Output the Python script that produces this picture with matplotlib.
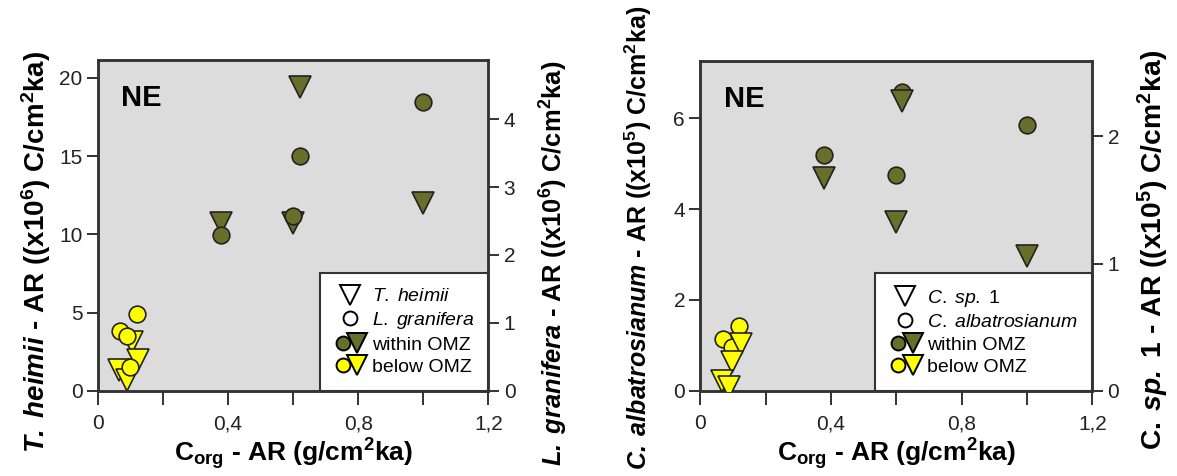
import matplotlib
matplotlib.use("Agg")
import matplotlib.pyplot as plt
from matplotlib.lines import Line2D
from matplotlib.legend_handler import HandlerTuple

plt.rcParams["font.family"] = ["Liberation Sans", "DejaVu Sans"]
plt.rcParams["mathtext.fontset"] = "custom"
plt.rcParams["mathtext.rm"] = "Liberation Sans"
plt.rcParams["mathtext.it"] = "Liberation Sans:italic"
plt.rcParams["mathtext.bf"] = "Liberation Sans:bold"
plt.rcParams["mathtext.bfit"] = "Liberation Sans:bold:italic"

OLIVE, YELLOW, EDGE, BG = "#66702a", "#ffff00", "#222222", "#dcdcdc"

# ---- left panel: T. heimii (triangles, left axis), L. granifera (circles, right axis)
th_in_x = [0.38, 0.60, 0.62, 1.00]
th_in_y = [10.7, 10.7, 19.4, 12.0]
lg_in_x = [0.38, 0.60, 0.62, 1.00]
lg_in_y = [2.30, 2.57, 3.45, 4.25]
th_bl_x = [0.104, 0.124, 0.066, 0.089]
th_bl_y = [3.1, 2.0, 1.3, 0.7]
lg_bl_x = [0.12, 0.069, 0.089, 0.099]
lg_bl_y = [1.13, 0.88, 0.80, 0.35]

# ---- right panel: C. albatrosianum (circles, left axis), C. sp. 1 (triangles, right axis)
ca_in_x = [0.38, 0.60, 0.617, 1.00]
ca_in_y = [5.18, 4.74, 6.57, 5.84]
cs_in_x = [0.38, 0.60, 0.617, 1.00]
cs_in_y = [1.67, 1.33, 2.28, 1.06]
ca_bl_x = [0.117, 0.069, 0.097]
ca_bl_y = [1.43, 1.15, 0.97]
cs_bl_x = [0.125, 0.097, 0.067, 0.089]
cs_bl_y = [0.37, 0.23, 0.08, 0.03]

x_ticks = [0, 0.2, 0.4, 0.6, 0.8, 1.0, 1.2]
x_labels = ["0", "", "0,4", "", "0,8", "", "1,2"]

TRI_MS, CIR_MS = 16, 12
TICK_FS, XLAB_FS, YLAB_FS = 15, 19, 19.5
W, H = 1177, 476


def style(ax, side):
    ax.tick_params(axis="y", which="both", direction="out", length=8, width=1.3,
                   labelsize=TICK_FS, colors="#222222", left=(side == "left"),
                   right=(side == "right"), labelleft=(side == "left"),
                   labelright=(side == "right"), pad=3)
    for s in ax.spines.values():
        s.set_linewidth(1.8)
        s.set_color("#333333")


def panel(rect, tri_x, tri_y, cir_x, cir_y, tri_bx, tri_by, cir_bx, cir_by,
          tri_left, lims, ticks, labels, names, pads):
    ax = fig.add_axes(rect)
    ax.set_facecolor(BG)
    ax2 = ax.twinx()
    tri_ax, cir_ax = (ax, ax2) if tri_left else (ax2, ax)
    kw_t = dict(marker="v", ms=TRI_MS, mec=EDGE, mew=1.2, ls="none")
    kw_c = dict(marker="o", ms=CIR_MS, mec=EDGE, mew=1.2, ls="none")
    tri_ax.plot(tri_x, tri_y, mfc=OLIVE, **kw_t, zorder=3)
    cir_ax.plot(cir_x, cir_y, mfc=OLIVE, **kw_c, zorder=4)
    tri_ax.plot(tri_bx, tri_by, mfc=YELLOW, **kw_t, zorder=3)
    cir_ax.plot(cir_bx, cir_by, mfc=YELLOW, **kw_c, zorder=4)

    ax.set_xlim(0, 1.2)
    ax.set_xticks(x_ticks)
    ax.set_xticklabels(x_labels)
    ax.tick_params(axis="x", direction="out", length=10, width=1.3,
                   labelsize=TICK_FS, pad=7, colors="#222222")
    ax.set_ylim(0, lims[0])
    ax2.set_ylim(0, lims[1])
    ax.set_yticks(ticks[0])
    ax2.set_yticks(ticks[1])
    style(ax, "left")
    style(ax2, "right")
    ax.set_xlabel(r"C$_{\mathbf{org}}$ - AR (g/cm$^{\mathbf{2}}$ka)", fontsize=XLAB_FS,
                  fontweight="bold", labelpad=2)
    ax.set_ylabel(labels[0], fontsize=YLAB_FS, fontweight="bold", labelpad=pads[0])
    ax2.set_ylabel(labels[1], fontsize=YLAB_FS, fontweight="bold", labelpad=pads[1],
                   rotation=90)
    ax.text(0.06, 0.885, "NE", transform=ax.transAxes, fontsize=21,
            fontweight="bold", va="center", zorder=6)

    # legend
    small_t = dict(marker="v", ms=14, mec="black", mew=1.4, ls="none")
    small_c = dict(marker="o", ms=10, mec="black", mew=1.4, ls="none")
    h = [
        Line2D([], [], mfc="white", **small_t),
        Line2D([], [], mfc="white", **small_c),
        (Line2D([], [], mfc=OLIVE, **small_c), Line2D([], [], mfc=OLIVE, **small_t)),
        (Line2D([], [], mfc=YELLOW, **small_c), Line2D([], [], mfc=YELLOW, **small_t)),
    ]
    lab = [names[0], names[1], "within OMZ", "below OMZ"]
    leg = ax2.legend(h, lab, loc="lower right", bbox_to_anchor=(1, 0),
                     borderaxespad=0, fancybox=False, framealpha=1,
                     edgecolor="#333333", fontsize=14, handlelength=1.6,
                     handletextpad=0.3, labelspacing=0.25, borderpad=0.75,
                     handler_map={tuple: HandlerTuple(ndivide=None, pad=-0.1)})
    leg.get_frame().set_linewidth(1.5)
    leg.set_zorder(10)
    return ax, ax2


fig = plt.figure(figsize=(W / 100, H / 100), dpi=100)

axL, axL2 = panel([0.083, 0.179, 0.332, 0.695], th_in_x, th_in_y, lg_in_x, lg_in_y,
                  th_bl_x, th_bl_y, lg_bl_x, lg_bl_y, True, (21.15, 4.87),
                  ([0, 5, 10, 15, 20], [0, 1, 2, 3, 4]),
                  (r"$\mathbfit{T.\;heimii}$ - AR ((x10$^{\mathbf{6}}$) C/cm$^{\mathbf{2}}$ka)",
                   r"$\mathbfit{L.\;granifera}$ - AR ((x10$^{\mathbf{6}}$) C/cm$^{\mathbf{2}}$ka)"),
                  (r"$\mathit{T.\;heimii}$", r"$\mathit{L.\;granifera}$"), (4, 16))

axR, axR2 = panel([0.595, 0.179, 0.333, 0.692], cs_in_x, cs_in_y, ca_in_x, ca_in_y,
                  cs_bl_x, cs_bl_y, ca_bl_x, ca_bl_y, False, (7.25, 2.59),
                  ([0, 2, 4, 6], [0, 1, 2]),
                  (r"$\mathbfit{C.\;albatrosianum}$ - AR ((x10$^{\mathbf{5}}$) C/cm$^{\mathbf{2}}$ka)",
                   r"$\mathbf{C.}\;\mathbfit{sp.}$ 1 - AR ((x10$^{\mathbf{5}}$) C/cm$^{\mathbf{2}}$ka)"),
                  (r"$\mathit{C.\;sp.}$ 1", r"$\mathit{C.\;albatrosianum}$"), (14, 12))

# fit each y label to the vertical span it covers in the original (px from top)
spans = [(axL, 50, 453), (axL2, 60, 466), (axR, 6, 470), (axR2, 50, 450)]
for _ in range(2):
    fig.canvas.draw()
    for ax, top, bot in spans:
        lab = ax.yaxis.label
        ext = lab.get_window_extent()
        lab.set_fontsize(lab.get_fontsize() * (bot - top) / ext.height)
        bb = ax.get_window_extent()
        yc = H - (top + bot) / 2
        lab.set_y((yc - bb.y0) / bb.height)

fig.savefig("out.png", dpi=100, facecolor="white")
